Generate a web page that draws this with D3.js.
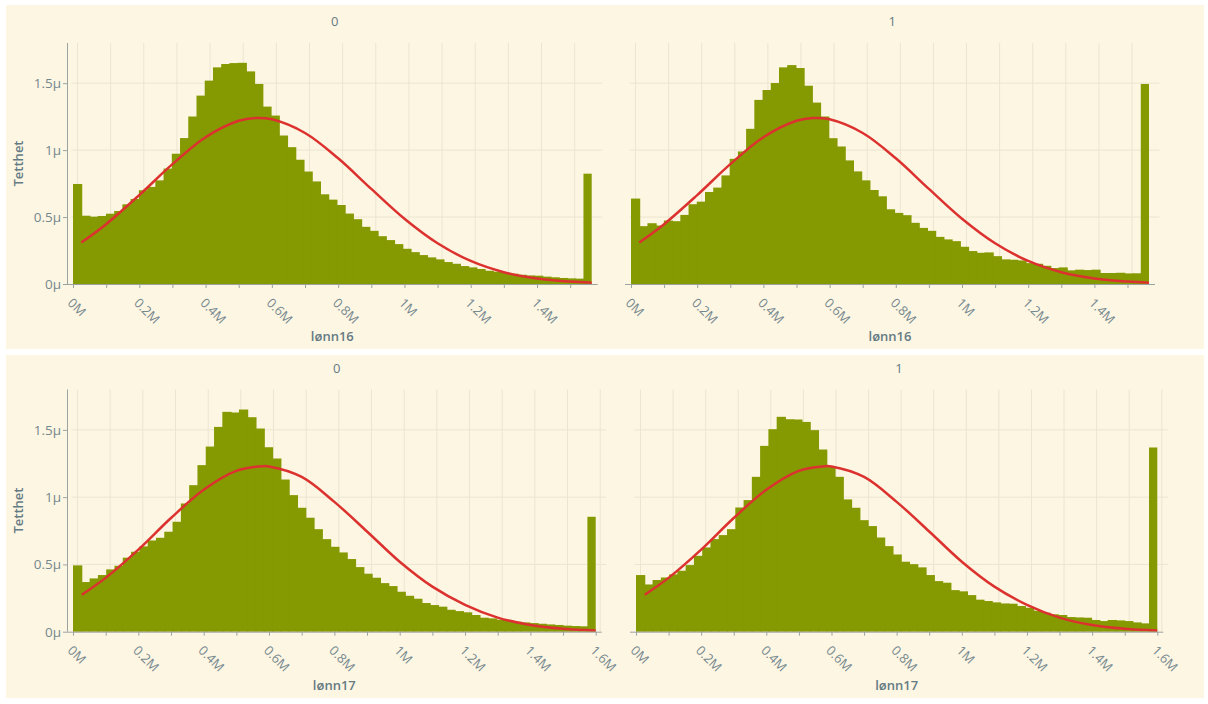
<!DOCTYPE html>
<html>
<head>
<meta charset="utf-8">
<script src="https://cdn.jsdelivr.net/npm/d3@7"></script>
<style>
  body { margin: 0; background: #ffffff; }
  svg { display: block; font-family: "Open Sans", sans-serif; }
</style>
</head>
<body>
<svg id="chart" width="1208" height="704"></svg>
<script>
// Histogram densities (in units of 1e-6), 63 equal bins from 0 to xMax
const binCount = 63;
const xMax16 = 1.565e6;
const xMax17 = 1.6e6;

const dens16_0 = [
  0.747, 0.51, 0.503, 0.508, 0.525, 0.545, 0.595, 0.635, 0.7, 0.725,
  0.774, 0.862, 0.973, 1.09, 1.251, 1.407, 1.519, 1.618, 1.643, 1.65,
  1.652, 1.588, 1.494, 1.325, 1.258, 1.109, 1.022, 0.928, 0.84, 0.766,
  0.67, 0.63, 0.59, 0.526, 0.484, 0.427, 0.397, 0.357, 0.328, 0.298,
  0.263, 0.238, 0.216, 0.199, 0.184, 0.164, 0.151, 0.134, 0.124, 0.112,
  0.099, 0.092, 0.084, 0.077, 0.069, 0.064, 0.062, 0.055, 0.05, 0.045,
  0.042, 0.04, 0.824,
];
const dens16_1 = [
  0.638, 0.432, 0.454, 0.437, 0.474, 0.469, 0.516, 0.596, 0.615, 0.687,
  0.72, 0.811, 0.935, 0.99, 1.159, 1.375, 1.449, 1.501, 1.618, 1.635,
  1.613, 1.481, 1.355, 1.251, 1.089, 1.027, 0.923, 0.841, 0.774, 0.702,
  0.655, 0.558, 0.531, 0.514, 0.457, 0.419, 0.397, 0.352, 0.333, 0.32,
  0.278, 0.246, 0.233, 0.236, 0.208, 0.184, 0.181, 0.176, 0.156, 0.151,
  0.136, 0.119, 0.124, 0.102, 0.107, 0.104, 0.107, 0.082, 0.082, 0.084,
  0.079, 0.08, 1.494,
];
const dens17_0 = [
  0.493, 0.369, 0.396, 0.421, 0.463, 0.49, 0.55, 0.594, 0.634, 0.678,
  0.698, 0.743, 0.817, 0.953, 1.089, 1.238, 1.376, 1.522, 1.634, 1.629,
  1.651, 1.594, 1.51, 1.371, 1.287, 1.131, 1.015, 0.921, 0.847, 0.762,
  0.688, 0.631, 0.589, 0.54, 0.48, 0.431, 0.401, 0.361, 0.339, 0.297,
  0.267, 0.245, 0.213, 0.198, 0.186, 0.163, 0.153, 0.144, 0.124, 0.104,
  0.099, 0.089, 0.084, 0.074, 0.069, 0.064, 0.059, 0.054, 0.05, 0.045,
  0.042, 0.04, 0.854,
];
const dens17_1 = [
  0.421, 0.351, 0.384, 0.403, 0.426, 0.453, 0.495, 0.564, 0.626, 0.688,
  0.718, 0.762, 0.923, 0.978, 1.151, 1.381, 1.505, 1.597, 1.579, 1.577,
  1.559, 1.498, 1.354, 1.225, 1.151, 0.983, 0.921, 0.829, 0.785, 0.7,
  0.636, 0.574, 0.52, 0.502, 0.478, 0.421, 0.376, 0.364, 0.309, 0.3,
  0.272, 0.238, 0.228, 0.218, 0.21, 0.208, 0.191, 0.178, 0.156, 0.141,
  0.129, 0.124, 0.109, 0.106, 0.104, 0.087, 0.079, 0.087, 0.084, 0.079,
  0.069, 0.062, 1.369,
];

// Fitted density curve (x in millions, y in 1e-6)
const curveX16 = [0.025, 0.1, 0.2, 0.3, 0.4, 0.5, 0.55, 0.6, 0.7, 0.8, 0.9, 1.0, 1.1, 1.2, 1.3, 1.4, 1.5, 1.565];
const curveY16 = [0.31, 0.447, 0.664, 0.895, 1.096, 1.219, 1.24, 1.23, 1.128, 0.939, 0.71, 0.487, 0.304, 0.172, 0.088, 0.041, 0.018, 0.01];
const curveX17 = [0.027, 0.1, 0.2, 0.3, 0.4, 0.5, 0.58, 0.6, 0.7, 0.8, 0.9, 1.0, 1.1, 1.2, 1.3, 1.4, 1.5, 1.6];
const curveY17 = [0.275, 0.4, 0.61, 0.845, 1.055, 1.195, 1.23, 1.228, 1.15, 0.965, 0.745, 0.52, 0.335, 0.2, 0.105, 0.05, 0.022, 0.009];

const yTicks = [0, 0.5, 1, 1.5];
const yMax = 1.8;
const xTicks16 = d3.range(0, 16).map((i) => i * 1e5);
const xTicks17 = d3.range(0, 17).map((i) => i * 1e5);

const panels = [
  { title: "0", label: "lønn16", dens: dens16_0, xMax: xMax16, cx: curveX16, cy: curveY16, ticks: xTicks16,
    x0: 67, x1: 597.7, top: 43, bottom: 284, yAxis: true, titleY: 26, labelY: 341 },
  { title: "1", label: "lønn16", dens: dens16_1, xMax: xMax16, cx: curveX16, cy: curveY16, ticks: xTicks16,
    x0: 625, x1: 1155, top: 43, bottom: 284, yAxis: false, titleY: 26, labelY: 341 },
  { title: "0", label: "lønn17", dens: dens17_0, xMax: xMax17, cx: curveX17, cy: curveY17, ticks: xTicks17,
    x0: 67, x1: 601.7, top: 389.5, bottom: 631.7, yAxis: true, titleY: 372.5, labelY: 690 },
  { title: "1", label: "lønn17", dens: dens17_1, xMax: xMax17, cx: curveX17, cy: curveY17, ticks: xTicks17,
    x0: 630, x1: 1163.3, top: 389.5, bottom: 631.7, yAxis: false, titleY: 372.5, labelY: 690 },
];

const textColor = "#657b83";
const tickColor = "#76888e";
const gridColor = "#ece5d0";
const axisColor = "#9ba3a1";
const gridOff = 4.5;

const svg = d3.select("#chart");

// Cream backgrounds for the two stacked charts
svg.append("rect").attr("x", 6).attr("y", 5).attr("width", 1198).attr("height", 344).attr("fill", "#fdf6e3");
svg.append("rect").attr("x", 6).attr("y", 355).attr("width", 1198).attr("height", 343).attr("fill", "#fdf6e3");

const fmtX = (d) => d3.format(".2~f")(d / 1e6) + "M";
const fmtY = (d) => d3.format(".1~f")(d) + "μ";

function drawPanel(p) {
  const g = svg.append("g");
  const x = d3.scaleLinear().domain([0, p.xMax]).range([p.x0 + 6, p.x1 - 6]);
  const y = d3.scaleLinear().domain([0, yMax]).range([p.bottom, p.top]);
  const bw = p.xMax / binCount;

  // Grid
  g.append("g")
    .selectAll("line")
    .data(p.ticks)
    .enter()
    .append("line")
    .attr("x1", (d) => x(d) + gridOff)
    .attr("x2", (d) => x(d) + gridOff)
    .attr("y1", p.top)
    .attr("y2", p.bottom)
    .attr("stroke", gridColor);

  g.append("g")
    .selectAll("line")
    .data(yTicks.slice(1))
    .enter()
    .append("line")
    .attr("x1", p.x0 + gridOff)
    .attr("x2", p.x1 + gridOff)
    .attr("y1", (d) => y(d))
    .attr("y2", (d) => y(d))
    .attr("stroke", gridColor);

  // Bars (each one overlaps the next by a pixel so no seams show)
  const bins = p.dens.map((v, i) => ({ a: i * bw, b: (i + 1) * bw, v: v, last: i === p.dens.length - 1 }));
  g.append("g")
    .selectAll("rect")
    .data(bins)
    .enter()
    .append("rect")
    .attr("x", (d) => x(d.a))
    .attr("width", (d) => x(d.b) - x(d.a) + (d.last ? 0 : 1))
    .attr("y", (d) => y(d.v))
    .attr("height", (d) => y(0) - y(d.v))
    .attr("fill", "#859900");

  // Fitted curve
  const line = d3
    .line()
    .x((d) => x(d[0] * 1e6))
    .y((d) => y(d[1]))
    .curve(d3.curveCatmullRom);
  g.append("path")
    .datum(d3.zip(p.cx, p.cy))
    .attr("d", line)
    .attr("fill", "none")
    .attr("stroke", "#dc322f")
    .attr("stroke-width", 2.5);

  // X axis
  const xAxis = g
    .append("g")
    .attr("transform", `translate(0, ${p.bottom})`)
    .call(
      d3
        .axisBottom(x)
        .tickValues(p.ticks)
        .tickSize(4)
        .tickSizeOuter(0)
        .tickFormat((d) => (Math.round(d / 1e5) % 2 === 0 ? fmtX(d) : ""))
    );
  xAxis.select(".domain").attr("d", `M${p.x0},0.5H${p.x1}`).attr("stroke", axisColor);
  xAxis.selectAll(".tick line").attr("stroke", axisColor);
  xAxis
    .selectAll(".tick text")
    .attr("fill", tickColor)
    .attr("font-size", 13)
    .attr("font-family", "Open Sans, sans-serif")
    .attr("text-anchor", "start")
    .attr("x", 0)
    .attr("y", 0)
    .attr("dy", "0.72em")
    .attr("transform", "translate(0, 13) rotate(45)");

  // Y axis
  if (p.yAxis) {
    const yAxis = g
      .append("g")
      .attr("transform", `translate(${p.x0}, 0)`)
      .call(d3.axisLeft(y).tickValues(yTicks).tickSize(4).tickSizeOuter(0).tickFormat(fmtY));
    yAxis.select(".domain").attr("d", `M0.5,${p.top}V${p.bottom}`).attr("stroke", axisColor);
    yAxis.selectAll(".tick line").attr("stroke", axisColor);
    yAxis
      .selectAll(".tick text")
      .attr("fill", tickColor)
      .attr("font-size", 13.5)
      .attr("font-family", "Open Sans, sans-serif")
      .attr("x", -6);

    g.append("text")
      .attr("transform", `translate(23, ${(p.top + p.bottom) / 2}) rotate(-90)`)
      .attr("text-anchor", "middle")
      .attr("fill", textColor)
      .attr("font-size", 13)
      .attr("font-weight", 600)
      .text("Tetthet");
  }

  // Facet title and x title
  g.append("text")
    .attr("x", (p.x0 + p.x1 + gridOff) / 2)
    .attr("y", p.titleY)
    .attr("text-anchor", "middle")
    .attr("fill", textColor)
    .attr("font-size", 13)
    .text(p.title);

  g.append("text")
    .attr("x", (p.x0 + p.x1) / 2)
    .attr("y", p.labelY)
    .attr("text-anchor", "middle")
    .attr("fill", textColor)
    .attr("font-size", 13)
    .attr("font-weight", 600)
    .text(p.label);
}

panels.forEach(drawPanel);
</script>
</body>
</html>
